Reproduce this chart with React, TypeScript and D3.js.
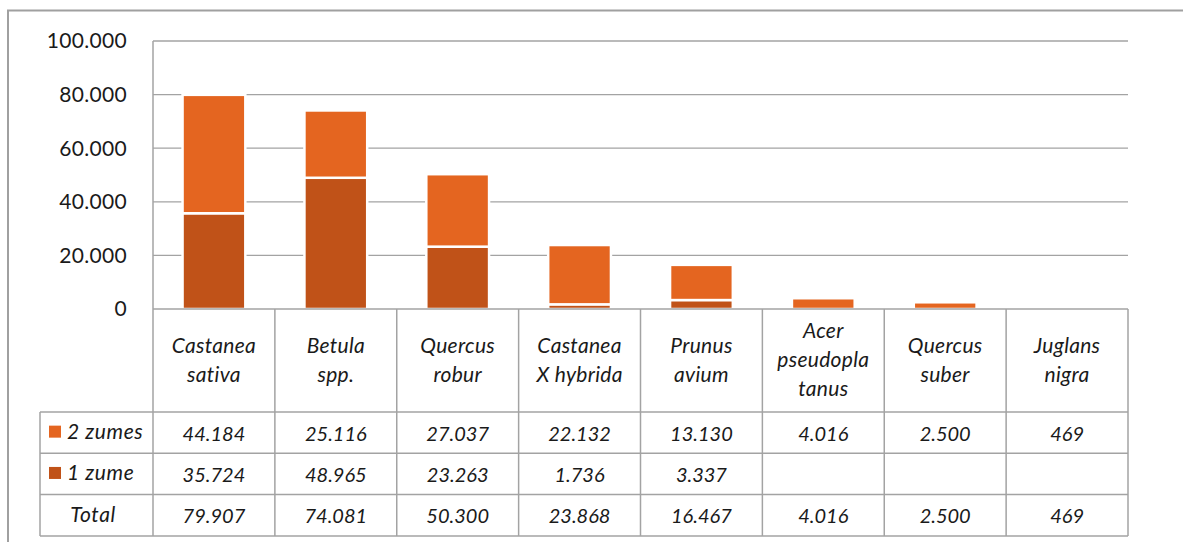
import React from 'react';
import * as d3 from 'd3';

const categories = [
  'Castanea sativa',
  'Betula spp.',
  'Quercus robur',
  'Castanea X hybrida',
  'Prunus avium',
  'Acer pseudoplatanus',
  'Quercus suber',
  'Juglans nigra',
];
// wrapped header text, as in the table
const categoryLines = [
  ['Castanea', 'sativa'],
  ['Betula', 'spp.'],
  ['Quercus', 'robur'],
  ['Castanea', 'X hybrida'],
  ['Prunus', 'avium'],
  ['Acer', 'pseudopla', 'tanus'],
  ['Quercus', 'suber'],
  ['Juglans', 'nigra'],
];
const twoZumes = [44184, 25116, 27037, 22132, 13130, 4016, 2500, 469];
const oneZume: (number | null)[] = [35724, 48965, 23263, 1736, 3337, null, null, null];
const totals = [79907, 74081, 50300, 23868, 16467, 4016, 2500, 469];
const yTicks = [0, 20000, 40000, 60000, 80000, 100000];

const seriesNames = ['2 zumes', '1 zume', 'Total'];
const colorTwo = '#E46520';
const colorOne = '#C05218';

const W = 1183;
const H = 542;
const plotLeft = 153;
const plotRight = 1128;
const plotTop = 41;
const plotBottom = 309;
const headerBottom = 412;
const rowH = 41.3;
const legendLeft = 40;
const gridColor = '#A3A3A3';
const textColor = '#1a1a1a';
const font = 'Lato, "Open Sans", sans-serif';

const locale = d3.formatLocale({ decimal: ',', thousands: '.', grouping: [3], currency: ['', ''] });
const fmt = locale.format(',d');

export default function App() {
  const x = d3.scaleBand<string>().domain(categories).range([plotLeft, plotRight]);
  const y = d3.scaleLinear().domain([0, 100000]).range([plotBottom, plotTop]);
  const bw = x.bandwidth() * 0.515;

  const rowTops = [0, 1, 2, 3].map(i => headerBottom + i * rowH);
  const rows = [twoZumes, oneZume, totals];

  return (
    <svg width={W} height={H} style={{ position: 'absolute', left: 0, top: 0 }} fontFamily={font}>
      <rect x={0} y={0} width={W} height={H} fill="#fff" />
      {/* outer frame */}
      <rect x={8} y={10.5} width={1400} height={700} fill="none" stroke="#A0A0A0" strokeWidth={2} />

      {/* gridlines */}
      {yTicks.filter(t => t > 0).map(t => (
        <line key={t} x1={plotLeft} x2={plotRight} y1={y(t)} y2={y(t)} stroke={gridColor} strokeWidth={1.3} />
      ))}
      {yTicks.map(t => (
        <text key={'l' + t} x={127} y={y(t)} dy="0.35em" textAnchor="end" fontSize={21} fill={textColor}
          letterSpacing={0.3}>
          {fmt(t)}
        </text>
      ))}

      {/* stacked bars */}
      {categories.map((c, i) => {
        const base = oneZume[i] ?? 0;
        const cx = (x(c) as number) + x.bandwidth() / 2;
        return (
          <g key={c}>
            {oneZume[i] != null && (
              <rect x={cx - bw / 2} y={y(base)} width={bw} height={y(0) - y(base)}
                fill={colorOne} stroke="#fff" strokeWidth={2.5} />
            )}
            <rect x={cx - bw / 2} y={y(base + twoZumes[i])} width={bw} height={y(base) - y(base + twoZumes[i])}
              fill={colorTwo} stroke="#fff" strokeWidth={2.5} />
          </g>
        );
      })}

      {/* axis line + table grid */}
      <line x1={plotLeft} x2={plotLeft} y1={plotTop} y2={rowTops[3]} stroke={gridColor} strokeWidth={1.5} />
      <line x1={plotLeft} x2={plotRight} y1={plotBottom} y2={plotBottom} stroke={gridColor} strokeWidth={1.5} />
      {rowTops.map((ry, i) => (
        <line key={'h' + i} x1={legendLeft} x2={plotRight} y1={ry} y2={ry} stroke={gridColor} strokeWidth={1.5} />
      ))}
      <line x1={legendLeft} x2={legendLeft} y1={headerBottom} y2={rowTops[3]} stroke={gridColor} strokeWidth={1.5} />
      {categories.map((c, i) => (
        <line key={'v' + i} x1={(x(c) as number) + x.bandwidth()} x2={(x(c) as number) + x.bandwidth()}
          y1={plotBottom} y2={rowTops[3]} stroke={gridColor} strokeWidth={1.5} />
      ))}

      {/* category headers */}
      {categories.map((c, i) => {
        const cx = (x(c) as number) + x.bandwidth() / 2;
        const lines = categoryLines[i];
        return (
          <text key={'c' + c} textAnchor="middle" fontSize={21} fontStyle="italic" fill={textColor}
            letterSpacing={0.3}>
            {lines.map((ln, j) => (
              <tspan key={j} x={cx} y={367 + (j - (lines.length - 1) / 2) * 29}>{ln}</tspan>
            ))}
          </text>
        );
      })}

      {/* legend cells */}
      {seriesNames.map((s, r) => {
        const cy = rowTops[r] + rowH / 2;
        return (
          <g key={s}>
            {r < 2 && <rect x={49} y={cy - 7} width={12} height={12} fill={r === 0 ? colorTwo : colorOne} />}
            <text x={r < 2 ? 67 : 93} y={cy} dy="0.3em" textAnchor={r < 2 ? 'start' : 'middle'}
              fontSize={21} fontStyle="italic" fill={textColor} letterSpacing={0.6}>{s}</text>
          </g>
        );
      })}

      {/* values */}
      {rows.map((vals, r) =>
        categories.map((c, i) => {
          const v = vals[i];
          if (v == null) return null;
          return (
            <text key={r + c} x={(x(c) as number) + x.bandwidth() / 2} y={rowTops[r] + rowH / 2} dy="0.4em"
              textAnchor="middle" fontSize={20} fontStyle="italic" fill={textColor}>{fmt(v)}</text>
          );
        })
      )}
    </svg>
  );
}
